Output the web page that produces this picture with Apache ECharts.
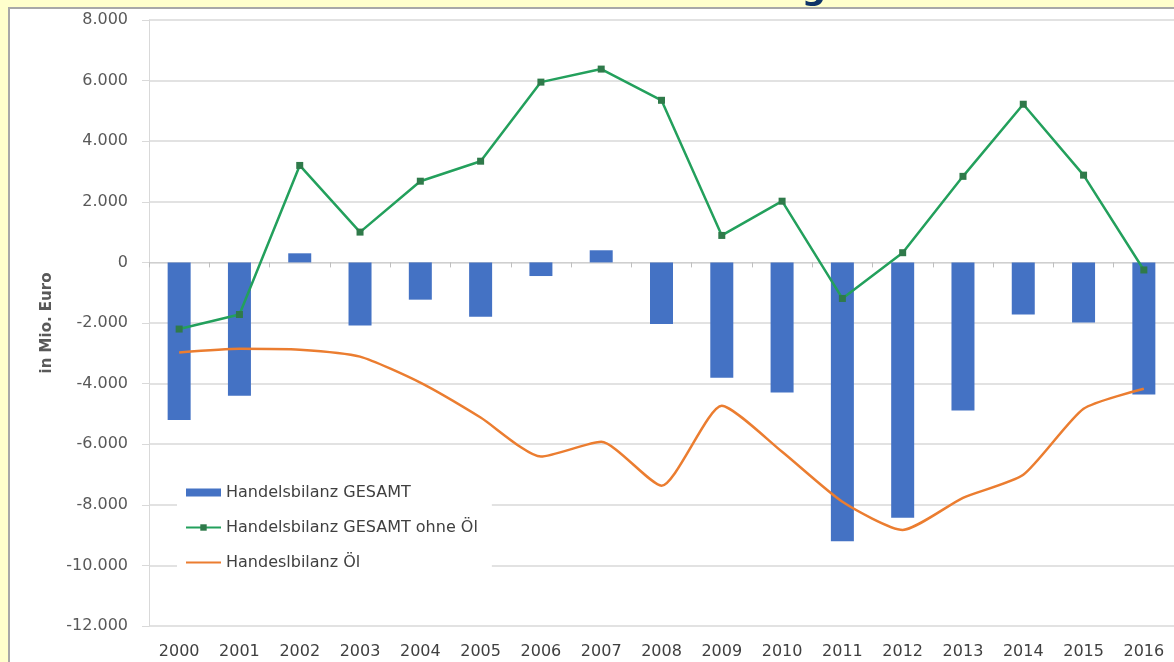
<!DOCTYPE html>
<html>
<head>
<meta charset="utf-8">
<script src="https://cdn.jsdelivr.net/npm/echarts@6/dist/echarts.min.js"></script>
<style>
  html, body { margin: 0; padding: 0; background: #FFFFCC; }
  #chart { width: 1174px; height: 662px; }
</style>
</head>
<body>
<div id="chart"></div>
<script>
// Years on the category axis
const years = ['2000','2001','2002','2003','2004','2005','2006','2007','2008',
               '2009','2010','2011','2012','2013','2014','2015','2016'];

// Trade balance, total (Mio. Euro)
const gesamt = [-5200, -4400, 300, -2080, -1230, -1790, -450, 400, -2030,
                -3810, -4290, -9200, -8430, -4890, -1720, -1980, -4360];

// Trade balance, total without oil (Mio. Euro)
const ohneOel = [-2200, -1720, 3200, 1000, 2680, 3340, 5950, 6380, 5350,
                 890, 2020, -1190, 320, 2840, 5220, 2880, -250];

// Trade balance, oil (Mio. Euro)
const oel = [-2970, -2850, -2880, -3110, -3970, -5120, -6410, -5920, -7370,
             -4730, -6250, -7900, -8830, -7770, -7010, -4830, -4170];

// Series names as shown in the legend
const seriesNames = ['Handelsbilanz GESAMT', 'Handelsbilanz GESAMT ohne Öl', 'Handeslbilanz Öl'];

// Value-axis range and step
const yMin = -12000, yMax = 8000, yStep = 2000;

const FONT = 'DejaVu Sans';
const gridColor = '#D9D9D9';

// German thousands separator: 8000 -> "8.000"
function deNumber(v) {
  const s = String(Math.abs(v)).replace(/\B(?=(\d{3})+(?!\d))/g, '.');
  return (v < 0 ? '-' : '') + s;
}

const chart = echarts.init(document.getElementById('chart'), null, { renderer: 'canvas' });

chart.setOption({
  backgroundColor: 'transparent',
  animation: false,
  graphic: [
    {
      type: 'rect',
      z: -100,
      silent: true,
      shape: { x: 9, y: 8, width: 1300, height: 800 },
      style: { fill: '#FFFFFF', stroke: '#A8A8A8', lineWidth: 2 }
    },
    {
      // descender of the page heading above the chart frame
      type: 'text',
      z: -90,
      silent: true,
      style: {
        x: 814, y: 7,
        text: 'g',
        align: 'center',
        verticalAlign: 'bottom',
        font: 'bold 34px "DejaVu Sans"',
        fill: '#0F3468'
      }
    }
  ],
  grid: { left: 149, right: -2, top: 20, bottom: 36, containLabel: false },
  legend: {
    orient: 'vertical',
    left: 177,
    top: 476,
    padding: [8, 14, 10, 8],
    itemGap: 18,
    itemWidth: 35,
    itemHeight: 8,
    backgroundColor: '#FFFFFF',
    textStyle: { fontFamily: FONT, fontSize: 16, color: '#404040', lineHeight: 17 },
    data: [
      { name: seriesNames[0], icon: 'rect' },
      { name: seriesNames[1] },
      { name: seriesNames[2], itemStyle: { color: 'rgba(0,0,0,0)', borderWidth: 0, opacity: 0 } }
    ]
  },
  xAxis: [
    {
      type: 'category',
      data: years,
      boundaryGap: true,
      position: 'bottom',
      axisLine: { show: false, onZero: false },
      axisTick: { show: false },
      axisLabel: { fontFamily: FONT, fontSize: 16, color: '#404040', margin: 18 },
      splitLine: { show: false }
    },
    {
      // category axis line drawn through zero, with tick marks between years
      type: 'category',
      data: years,
      boundaryGap: true,
      position: 'bottom',
      axisLine: { show: true, onZero: true, lineStyle: { color: '#CFCFCF', width: 1 } },
      axisTick: { show: true, length: 5, lineStyle: { color: '#BFBFBF' } },
      axisLabel: { show: false },
      splitLine: { show: false }
    }
  ],
  yAxis: {
    type: 'value',
    min: yMin,
    max: yMax,
    interval: yStep,
    name: 'in Mio. Euro',
    nameLocation: 'middle',
    nameGap: 94,
    nameRotate: 90,
    nameTextStyle: { fontFamily: FONT, fontSize: 15, fontWeight: 'bold', color: '#595959' },
    axisLine: { show: true, lineStyle: { color: gridColor } },
    axisTick: { show: true, length: 7, lineStyle: { color: gridColor } },
    axisLabel: {
      fontFamily: FONT, fontSize: 16, color: '#595959', margin: 21,
      formatter: deNumber
    },
    splitLine: { show: true, lineStyle: { color: gridColor, width: 1.5 } }
  },
  series: [
    {
      name: seriesNames[0],
      type: 'bar',
      xAxisIndex: 0,
      data: gesamt,
      barWidth: 23,
      itemStyle: { color: '#4472C4' },
      z: 2
    },
    {
      name: seriesNames[1],
      type: 'line',
      xAxisIndex: 0,
      data: ohneOel,
      symbol: 'rect',
      symbolSize: 7,
      showSymbol: true,
      lineStyle: { color: '#23A05C', width: 2.5 },
      itemStyle: { color: '#2F7A4A' },
      z: 4
    },
    {
      name: seriesNames[2],
      type: 'line',
      xAxisIndex: 0,
      data: oel,
      smooth: 0.2,
      symbol: 'none',
      lineStyle: { color: '#EB7D30', width: 2.5 },
      itemStyle: { color: '#EB7D30' },
      z: 3
    }
  ]
});
</script>
</body>
</html>
